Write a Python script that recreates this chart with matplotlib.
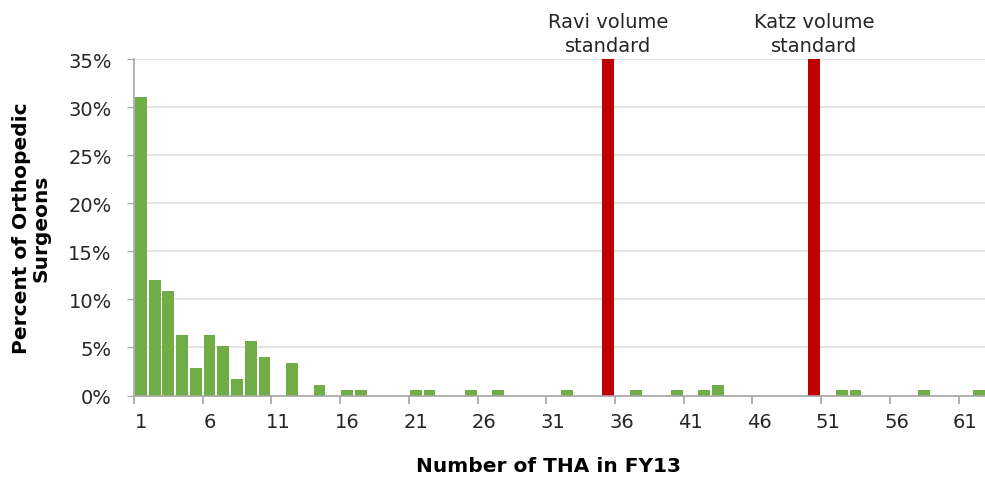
import matplotlib
matplotlib.use("Agg")
import matplotlib.pyplot as plt
from matplotlib.ticker import FixedLocator, FuncFormatter

# ---- data ----
categories = list(range(1, 63))
percent_surgeons = [31.0, 12.0, 10.9, 6.3, 2.9, 6.3, 5.2, 1.7, 5.7, 4.0,
                    0, 3.4, 0, 1.1, 0, 0.6, 0.6, 0, 0, 0,
                    0.6, 0.6, 0, 0, 0.6, 0, 0.6, 0, 0, 0,
                    0, 0.6, 0, 0, 0, 0, 0.6, 0, 0, 0.6,
                    0, 0.6, 1.1, 0, 0, 0, 0, 0, 0, 0,
                    0, 0.6, 0.6, 0, 0, 0, 0, 0.6, 0, 0,
                    0, 0.6]
standard_positions = [35, 50]
standard_heights = [35, 35]
standard_labels = ["Ravi volume\nstandard", "Katz volume\nstandard"]
xtick_labels = ["1", "6", "11", "16", "21", "26", "31", "36", "41", "46", "51", "56", "61"]
ytick_values = [0, 5, 10, 15, 20, 25, 30, 35]

GREEN = "#70AD47"
RED = "#C00000"
GRID = "#E3E3E3"
AXIS = "#A6A6A6"
TEXT = "#262626"

plt.rcParams["font.family"] = ["DejaVu Sans"]

fig = plt.figure(figsize=(9.85, 4.81), dpi=100)
ax = fig.add_axes([134 / 985, 1 - 396.5 / 481, 1 - 134 / 985, (396.5 - 60) / 481])

ax.bar(categories, percent_surgeons, width=0.86, color=GREEN, zorder=3)
ax.bar(standard_positions, standard_heights, width=0.86, color=RED, zorder=3)

for xpos, h, lab in zip(standard_positions, standard_heights, standard_labels):
    ax.annotate(lab, xy=(xpos, h), xytext=(0, 3), textcoords="offset points",
                ha="center", va="bottom", fontsize=14, color=TEXT,
                linespacing=1.35, annotation_clip=False)

ax.set_xlim(0.5, 62.42)
ax.set_ylim(0, 35)

ax.set_yticks(ytick_values)
ax.yaxis.set_major_formatter(FuncFormatter(lambda v, p: f"{int(v)}%"))
ax.tick_params(axis="y", length=5, color=AXIS, labelsize=14, labelcolor=TEXT, pad=11)
ax.yaxis.grid(True, color=GRID, linewidth=1.3, zorder=0)

label_pos = [int(s) for s in xtick_labels]
ax.xaxis.set_major_locator(FixedLocator([0.5 + 5 * k for k in range(13)]))
ax.xaxis.set_major_formatter(FuncFormatter(lambda v, p: ""))
ax.xaxis.set_minor_locator(FixedLocator(label_pos))
ax.set_xticklabels(xtick_labels, minor=True)
ax.tick_params(axis="x", which="major", length=6, color=AXIS, width=1.2)
ax.tick_params(axis="x", which="minor", length=0, labelsize=14, labelcolor=TEXT, pad=12)

for s in ["top", "right"]:
    ax.spines[s].set_visible(False)
for s in ["left", "bottom"]:
    ax.spines[s].set_color(AXIS)
    ax.spines[s].set_linewidth(1.2)
    ax.spines[s].set_zorder(4)

fig.text(31 / 985, 1 - 228 / 481, "Percent of Orthopedic\nSurgeons", rotation=90,
         ha="center", va="center", fontsize=14.5, fontweight="bold", color="black",
         multialignment="center", linespacing=1.05)
fig.text(548 / 985, 1 - 467 / 481, "Number of THA in FY13", ha="center", va="center",
         fontsize=14.5, fontweight="bold", color="black")

fig.savefig("out.png", dpi=100)
